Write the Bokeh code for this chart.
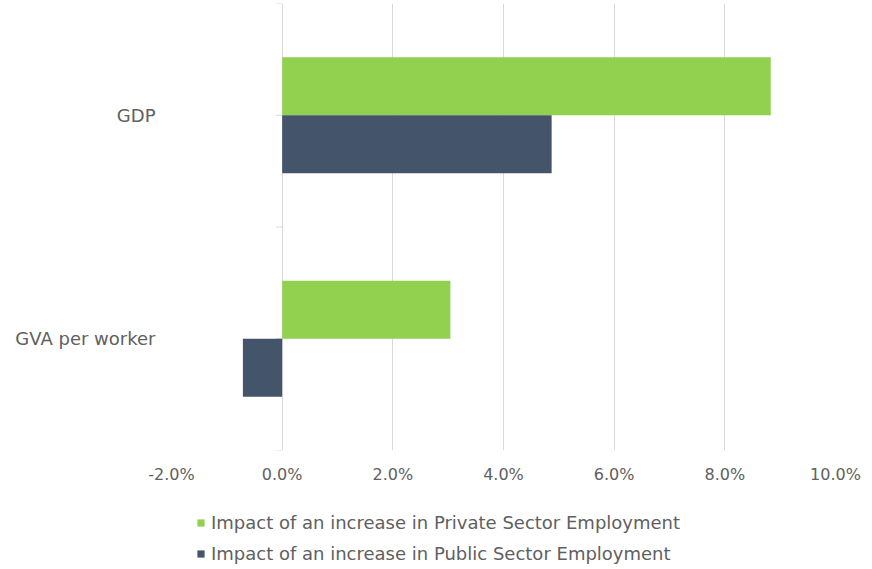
from bokeh.plotting import figure
from bokeh.layouts import column
from bokeh.models import (ColumnDataSource, Range1d, Legend, LegendItem,
                          FixedTicker, NumeralTickFormatter)
from bokeh.embed import file_html
from bokeh.resources import INLINE

# ---- data ----
categories = ["GDP", "GVA per worker"]
private_sector = [0.0883, 0.0304]   # Impact of an increase in Private Sector Employment
public_sector = [0.0487, -0.0071]   # Impact of an increase in Public Sector Employment
x_ticks = [-0.02, 0.0, 0.02, 0.04, 0.06, 0.08, 0.10]
series_names = ["Impact of an increase in Private Sector Employment",
                "Impact of an increase in Public Sector Employment"]
colors = ["#92D050", "#44546A"]

FONT = "DejaVu Sans"
TXT = "#606060"
n = len(categories)
# category centers, top to bottom
centers = [n - i - 0.5 for i in range(n)]
bar_h = 0.26

src_priv = ColumnDataSource(dict(y=[c + bar_h / 2 for c in centers], right=private_sector))
src_pub = ColumnDataSource(dict(y=[c - bar_h / 2 for c in centers], right=public_sector))

p = figure(frame_width=664, frame_height=447,
           x_range=Range1d(x_ticks[0], x_ticks[-1]), y_range=Range1d(0, n),
           output_backend="svg", toolbar_location=None,
           min_border_left=171, min_border_right=37, min_border_top=3,
           min_border_bottom=33)
p.outline_line_color = None
p.background_fill_color = "white"
p.border_fill_color = "white"

p.xgrid.grid_line_color = "#d9d9d9"
p.xgrid.ticker = FixedTicker(ticks=x_ticks)
p.ygrid.grid_line_color = None

# small tick marks on the zero line
tick_ys = [k * 0.5 for k in range(2 * n + 1)]
p.segment(x0=[-0.0011] * len(tick_ys), x1=[0.0] * len(tick_ys), y0=tick_ys, y1=tick_ys,
          line_color="#d9d9d9", line_width=1)

r1 = p.hbar(y="y", right="right", left=0, height=bar_h, source=src_priv,
            fill_color=colors[0], line_color=None)
r2 = p.hbar(y="y", right="right", left=0, height=bar_h, source=src_pub,
            fill_color=colors[1], line_color=None)

# x axis
xa = p.xaxis[0]
xa.ticker = FixedTicker(ticks=x_ticks)
xa.formatter = NumeralTickFormatter(format="0.0%")
xa.axis_line_color = None
xa.major_tick_line_color = None
xa.major_tick_out = 0
xa.major_tick_in = 0
xa.minor_tick_line_color = None
xa.major_label_text_font = FONT
xa.major_label_text_font_size = "16px"
xa.major_label_text_color = TXT
xa.major_label_standoff = 14

# y axis
ya = p.yaxis[0]
ya.ticker = FixedTicker(ticks=centers)
ya.major_label_overrides = {c: name for c, name in zip(centers, categories)}
ya.axis_line_color = None
ya.major_tick_line_color = None
ya.major_tick_out = 0
ya.major_tick_in = 0
ya.minor_tick_line_color = None
ya.major_label_text_font = FONT
ya.major_label_text_font_size = "18px"
ya.major_label_text_color = TXT
ya.major_label_standoff = 16

# ---- legend figure below the chart ----
lg = figure(width=872, height=86, output_backend="svg", toolbar_location=None,
            x_axis_location=None, y_axis_location=None,
            min_border=0, x_range=Range1d(0, 1), y_range=Range1d(0, 1))
lg.outline_line_color = None
lg.xgrid.grid_line_color = None
lg.ygrid.grid_line_color = None
lr1 = lg.hbar(y="y", right="right", left=0, height=bar_h, source=src_priv,
              fill_color=colors[0], line_color=None, visible=False)
lr2 = lg.hbar(y="y", right="right", left=0, height=bar_h, source=src_pub,
              fill_color=colors[1], line_color=None, visible=False)

legend = Legend(items=[LegendItem(label=series_names[0], renderers=[lr1]),
                       LegendItem(label=series_names[1], renderers=[lr2])],
                orientation="vertical", location=(25, 8))
legend.glyph_width = 9
legend.glyph_height = 9
legend.label_height = 20
legend.label_text_font = FONT
legend.label_text_font_size = "18px"
legend.label_text_color = TXT
legend.label_standoff = 6
legend.spacing = 10
legend.padding = 0
legend.margin = 0
legend.border_line_color = None
legend.background_fill_alpha = 0
legend.inactive_fill_alpha = 0
lg.add_layout(legend, "center")

layout = column(p, lg, spacing=0)
open("out.html", "w").write(file_html(layout, INLINE))
